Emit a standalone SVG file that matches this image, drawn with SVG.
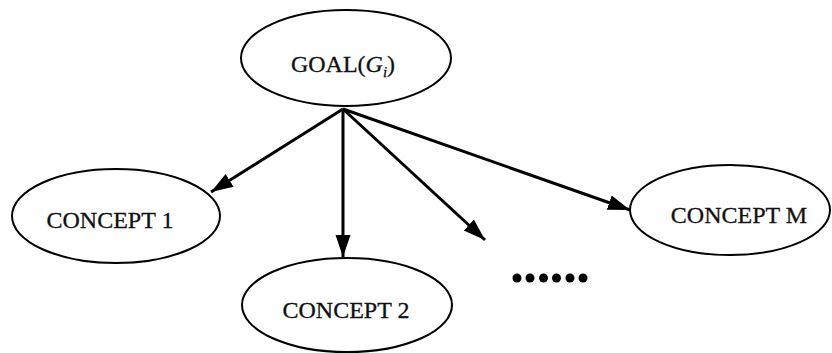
<svg xmlns="http://www.w3.org/2000/svg" width="832" height="353" viewBox="0 0 832 353">
<style>
.node ellipse{fill:#fff;stroke:#000;stroke-width:2}
.node text{font-family:"Liberation Serif","Times New Roman",serif;font-size:24px;fill:#111;stroke:#111;stroke-width:0.3;text-anchor:middle}
.edge{stroke:#000;stroke-width:3;fill:none;marker-end:url(#arr)}
</style>
<defs>
<marker id="arr" markerUnits="userSpaceOnUse" markerWidth="24" markerHeight="18" viewBox="0 0 24 18" refX="22" refY="9" orient="auto">
<path d="M0,1.5 L22,9 L0,16.5 Z" fill="#000"/>
</marker>
</defs>
<rect width="832" height="353" fill="#fff"/>
<g id="connectors">
<line class="edge" x1="343" y1="109" x2="211" y2="192"/>
<line class="edge" x1="343" y1="109" x2="343" y2="257"/>
<line class="edge" x1="343" y1="109" x2="485" y2="240"/>
<line class="edge" x1="343" y1="109" x2="630" y2="210"/>
</g>
<g id="goal" class="node">
<ellipse cx="346" cy="58" rx="105" ry="48"/>
<text x="343" y="72">GOAL(<tspan font-style="italic">G</tspan><tspan font-style="italic" font-size="15" dy="5">i</tspan><tspan dy="-5">)</tspan></text>
</g>
<g id="concept1" class="node">
<ellipse cx="116" cy="216" rx="104" ry="47"/>
<text x="110" y="228">CONCEPT 1</text>
</g>
<g id="concept2" class="node">
<ellipse cx="347" cy="305" rx="105" ry="47"/>
<text x="346" y="318">CONCEPT 2</text>
</g>
<g id="conceptM" class="node">
<ellipse cx="730" cy="210" rx="100" ry="45"/>
<text x="739" y="223">CONCEPT M</text>
</g>
<g id="dots" fill="#000">
<circle cx="517" cy="278" r="4.5"/>
<circle cx="530" cy="278" r="4.5"/>
<circle cx="543.5" cy="278" r="4.5"/>
<circle cx="556.5" cy="278" r="4.5"/>
<circle cx="570" cy="278" r="4.5"/>
<circle cx="583" cy="278" r="4.5"/>
</g>
</svg>
